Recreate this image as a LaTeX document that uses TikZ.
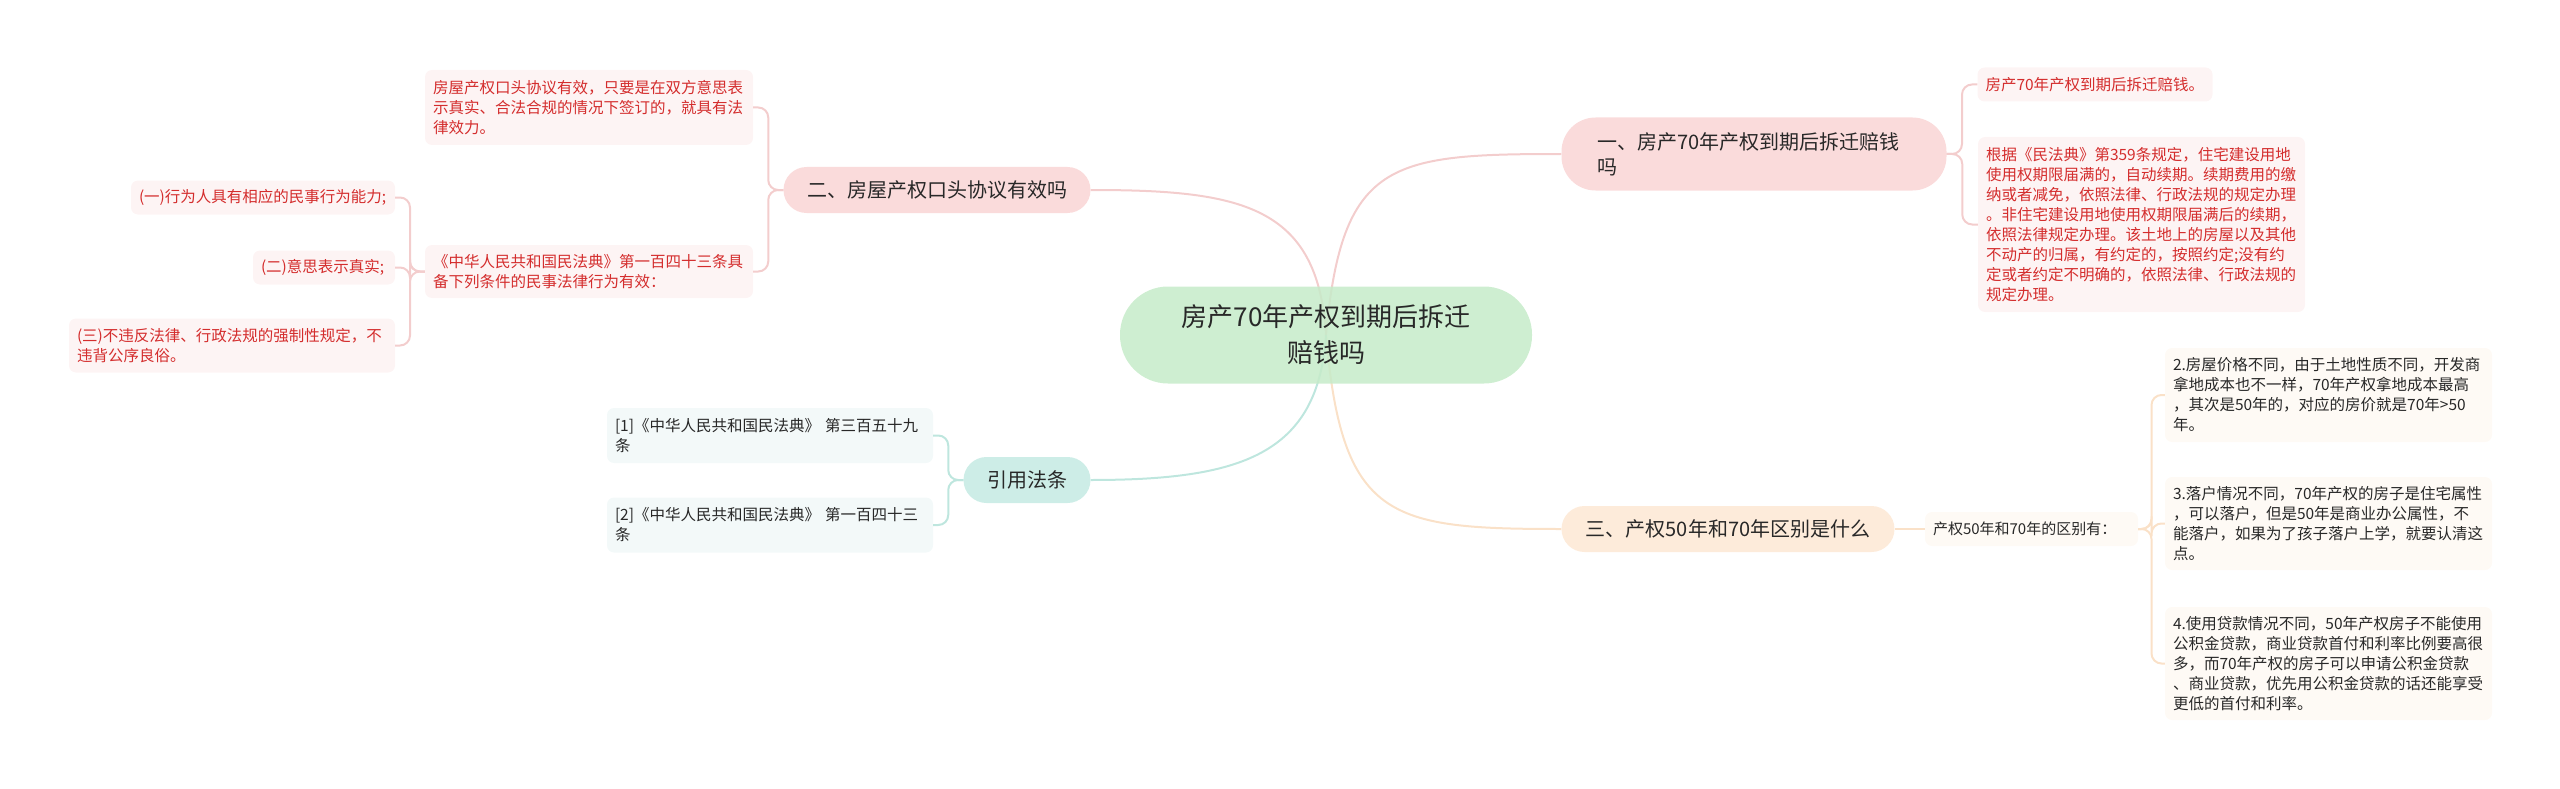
\documentclass[tikz,border=0pt]{standalone}
\usepackage{fontspec}
\setmainfont{Noto Sans CJK SC}
\usetikzlibrary{calc,backgrounds}
\definecolor{ctrfill}{RGB}{198,235,201}
\definecolor{pinkfill}{RGB}{250,219,219}
\definecolor{peachfill}{RGB}{253,235,218}
\definecolor{tealfill}{RGB}{205,237,231}
\definecolor{pinkleaf}{RGB}{253,244,244}
\definecolor{peachleaf}{RGB}{254,250,245}
\definecolor{tealleaf}{RGB}{243,249,249}
\definecolor{pinkline}{RGB}{243,205,205}
\definecolor{peachline}{RGB}{250,225,200}
\definecolor{tealline}{RGB}{190,230,222}
\definecolor{redtxt}{RGB}{212,45,45}
\definecolor{darktxt}{RGB}{40,40,40}
\newcommand\leafsize{\fontsize{15.5}{20}\selectfont}
\begin{document}
\begin{tikzpicture}[x=1pt,y=-1pt,
  topic/.style={rounded corners=23pt,inner sep=0pt,minimum height=46pt,text=darktxt,font=\fontsize{20}{25}\selectfont},
  leaf/.style={rounded corners=7pt,inner xsep=8pt,inner ysep=0pt,align=left,font=\leafsize},
  redleaf/.style={leaf,fill=pinkleaf,text=redtxt},
  peachbox/.style={leaf,fill=peachleaf,text=darktxt},
  tealbox/.style={leaf,fill=tealleaf,text=darktxt},
  link/.style={line width=2pt},
  brace/.style={line width=2pt,rounded corners=10pt}]
\useasboundingbox (0,0) rectangle (2560,789);
% centre
\node[rounded corners=48pt,fill=ctrfill,fill opacity=.85,text opacity=1,text=darktxt,
  minimum width=412pt,minimum height=97pt,align=center,font=\fontsize{26}{36}\selectfont]
  (ctr) at (1326,335) {房产70年产权到期后拆迁\\赔钱吗};
% main topics
\node[topic,fill=pinkfill,rounded corners=34pt,minimum height=73pt,inner xsep=36pt,text width=313pt,align=left]
  (b1) at (1754,154) {一、房产70年产权到期后拆迁赔钱\\吗};
\node[topic,fill=pinkfill,minimum width=307pt] (b2) at (937,190) {二、房屋产权口头协议有效吗};
\node[topic,fill=peachfill,minimum width=333pt] (b3) at (1728,529) {三、产权50年和70年区别是什么};
\node[topic,fill=tealfill,minimum width=127pt] (b4) at (1027,480) {引用法条};
% topic 1
\node[redleaf,text width=219pt,minimum height=34pt] (a1) at (2095,84.5) {房产70年产权到期后拆迁赔钱。};
\node[redleaf,text width=311pt,minimum height=175pt] (a2) at (2141.5,224.5)
  {根据《民法典》第359条规定，住宅建设用地\\使用权期限届满的，自动续期。续期费用的缴\\纳或者减免，依照法律、行政法规的规定办理\\。非住宅建设用地使用权期限届满后的续期，\\依照法律规定办理。该土地上的房屋以及其他\\不动产的归属，有约定的，按照约定;没有约\\定或者约定不明确的，依照法律、行政法规的\\规定办理。};
% topic 2
\node[redleaf,text width=312pt,minimum height=75pt] (c1) at (589,107.5)
  {房屋产权口头协议有效，只要是在双方意思表\\示真实、合法合规的情况下签订的，就具有法\\律效力。};
\node[redleaf,text width=312pt,minimum height=53pt] (c2) at (589,271.5)
  {《中华人民共和国民法典》第一百四十三条具\\备下列条件的民事法律行为有效：};
\node[redleaf,text width=248pt,minimum height=34pt] (e1) at (263,197.5) {(一)行为人具有相应的民事行为能力;};
\node[redleaf,text width=126pt,minimum height=34pt] (e2) at (324,267.5) {(二)意思表示真实;};
\node[redleaf,text width=310pt,minimum height=54pt] (e3) at (232,345.5)
  {(三)不违反法律、行政法规的强制性规定，不\\违背公序良俗。};
% topic 3
\node[peachbox,text width=197pt,minimum height=34pt,font=\fontsize{15}{20}\selectfont] (h0) at (2031.5,529) {产权50年和70年的区别有：};
\node[peachbox,text width=311pt,minimum height=94pt] (h1) at (2328.5,395)
  {2.房屋价格不同，由于土地性质不同，开发商\\拿地成本也不一样，70年产权拿地成本最高\\，其次是50年的，对应的房价就是70年>50\\年。};
\node[peachbox,text width=311pt,minimum height=93pt] (h2) at (2328.5,523.5)
  {3.落户情况不同，70年产权的房子是住宅属性\\，可以落户，但是50年是商业办公属性，不\\能落户，如果为了孩子落户上学，就要认清这\\点。};
\node[peachbox,text width=311pt,minimum height=113pt] (h3) at (2328.5,663.5)
  {4.使用贷款情况不同，50年产权房子不能使用\\公积金贷款，商业贷款首付和利率比例要高很\\多，而70年产权的房子可以申请公积金贷款\\、商业贷款，优先用公积金贷款的话还能享受\\更低的首付和利率。};
% topic 4
\node[tealbox,text width=310pt,minimum height=55pt] (f1) at (770,435.5) {[1]《中华人民共和国民法典》 第三百五十九\\条};
\node[tealbox,text width=310pt,minimum height=55pt] (f2) at (770,525) {[2]《中华人民共和国民法典》 第一百四十三\\条};
\begin{scope}[on background layer]
  \draw[link,pinkline] (ctr.center) .. controls +(16,-174) and +(-172,0) .. (b1.west);
  \draw[link,pinkline] (ctr.center) .. controls +(-8,-130) and +(150,0) .. (b2.east);
  \draw[link,peachline] (ctr.center) .. controls +(16,185) and +(-172,0) .. (b3.west);
  \draw[link,tealline] (ctr.center) .. controls +(-8,120) and +(150,0) .. (b4.east);
\end{scope}
\foreach \k in {a1,a2}
  \draw[brace,pinkline] (b1.east) -| ($(b1.east)!.5!(\k.west)$) |- (\k.west);
\foreach \k in {c1,c2}
  \draw[brace,pinkline] (b2.west) -| ($(b2.west)!.5!(\k.east)$) |- (\k.east);
\foreach \k in {e1,e2,e3}
  \draw[brace,pinkline] (c2.west) -| ($(c2.west)!.5!(\k.east)$) |- (\k.east);
\draw[brace,peachline] (b3.east) -- (h0.west);
\foreach \k in {h1,h2,h3}
  \draw[brace,peachline] (h0.east) -| ($(h0.east)!.5!(\k.west)$) |- (\k.west);
\foreach \k in {f1,f2}
  \draw[brace,tealline] (b4.west) -| ($(b4.west)!.5!(\k.east)$) |- (\k.east);
\end{tikzpicture}
\end{document}
